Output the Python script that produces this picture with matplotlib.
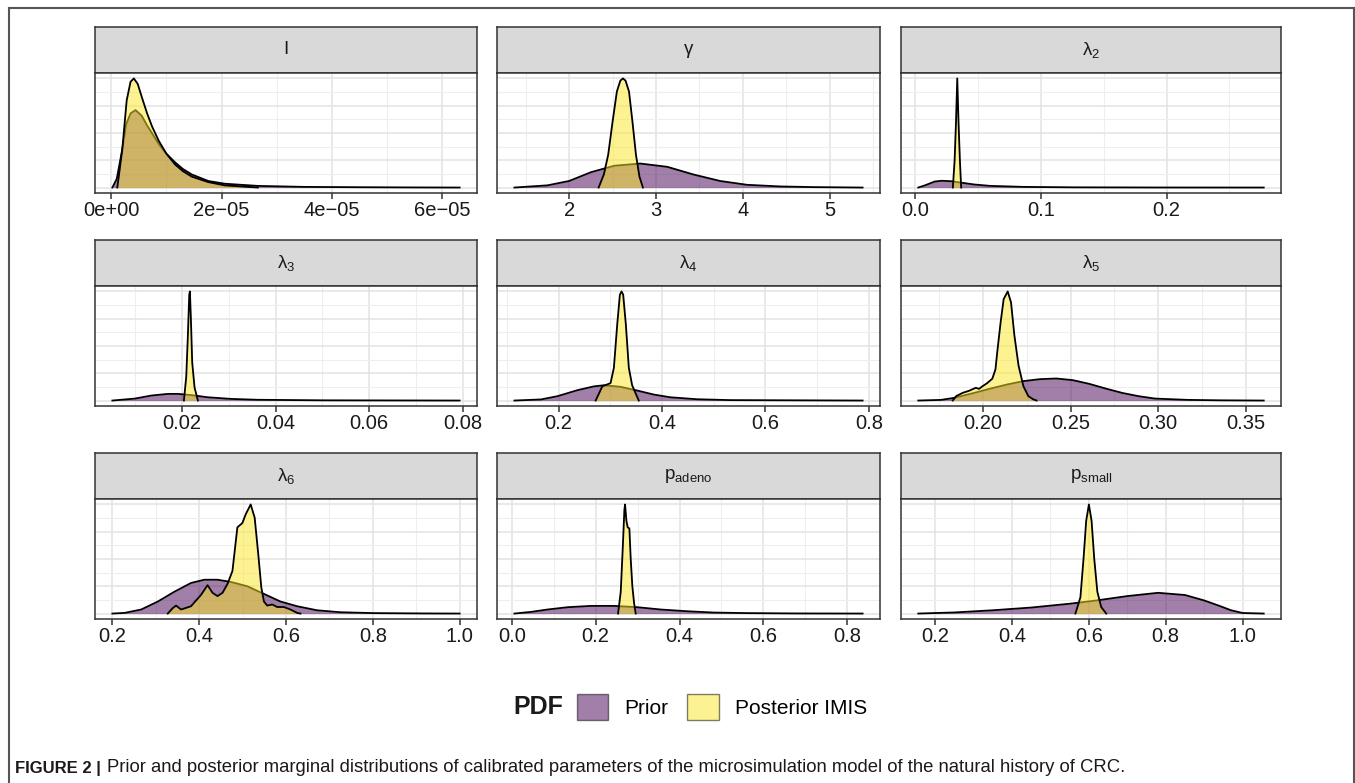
import numpy as np
import matplotlib
matplotlib.use('Agg')
import matplotlib.pyplot as plt
from matplotlib.patches import Patch
from matplotlib.lines import Line2D

plt.rcParams['font.family'] = ['Liberation Sans', 'DejaVu Sans']
plt.rcParams['mathtext.default'] = 'regular'

# ---------------- data (heights relative to posterior peak) -------------
panel_titles = [r'I', r'γ', r'$\mathregular{λ_2}$',
                r'$\mathregular{λ_3}$', r'$\mathregular{λ_4}$', r'$\mathregular{λ_5}$',
                r'$\mathregular{λ_6}$', r'$\mathregular{p_{adeno}}$', r'$\mathregular{p_{small}}$']
series_names = ['Prior', 'Posterior IMIS']

# I  (values in units of 1e-5)
I_scale = 1e-5
I_prior_x = [0.02, 0.1, 0.2, 0.27, 0.35, 0.44, 0.55, 0.65, 0.75, 0.86, 1.0, 1.16, 1.3, 1.46, 1.76, 2.06, 2.66, 3.5, 4.5, 5.5, 6.32]
I_prior_h = [0, 0.08, 0.35, 0.58, 0.68, 0.71, 0.66, 0.57, 0.49, 0.40, 0.31, 0.23, 0.17, 0.12, 0.06, 0.035, 0.015, 0.006, 0.003, 0.001, 0]
I_post_x = [0.11, 0.2, 0.28, 0.35, 0.41, 0.48, 0.56, 0.65, 0.74, 0.86, 1.0, 1.16, 1.3, 1.46, 1.76, 2.06, 2.66]
I_post_h = [0, 0.35, 0.8, 0.97, 1.0, 0.95, 0.82, 0.68, 0.56, 0.43, 0.31, 0.21, 0.15, 0.10, 0.05, 0.02, 0]

gamma_prior_x = [1.37, 1.75, 2.0, 2.25, 2.52, 2.82, 3.13, 3.43, 3.74, 4.05, 4.43, 4.81, 5.38]
gamma_prior_h = [0, 0.02, 0.06, 0.14, 0.20, 0.22, 0.19, 0.12, 0.06, 0.025, 0.01, 0.004, 0]
gamma_post_x = [2.34, 2.40, 2.45, 2.50, 2.55, 2.59, 2.62, 2.65, 2.69, 2.73, 2.77, 2.81, 2.85]
gamma_post_h = [0, 0.12, 0.3, 0.6, 0.88, 0.98, 1.0, 0.98, 0.88, 0.6, 0.3, 0.1, 0]

l2_prior_x = [0.0026, 0.0079, 0.0157, 0.021, 0.0288, 0.0367, 0.047, 0.060, 0.0865, 0.126, 0.191, 0.2773]
l2_prior_h = [0, 0.02, 0.055, 0.062, 0.058, 0.045, 0.028, 0.015, 0.006, 0.002, 0.0005, 0]
l2_post_x = [0.0301, 0.0315, 0.0326, 0.0336, 0.0346, 0.0357, 0.0367]
l2_post_h = [0, 0.25, 0.6, 1.0, 0.6, 0.25, 0]

l3_prior_x = [0.00514, 0.00995, 0.01349, 0.01703, 0.01915, 0.02198, 0.02552, 0.03047, 0.03613, 0.05028, 0.0793]
l3_prior_h = [0, 0.018, 0.046, 0.061, 0.061, 0.05, 0.03, 0.015, 0.007, 0.002, 0]
l3_post_x = [0.02042, 0.02092, 0.02127, 0.02156, 0.0217, 0.02191, 0.02219, 0.02269, 0.0234]
l3_post_h = [0, 0.22, 0.6, 0.97, 1.0, 0.75, 0.35, 0.12, 0]

l4_prior_x = [0.1147, 0.166, 0.198, 0.2365, 0.2686, 0.2878, 0.3199, 0.3519, 0.384, 0.416, 0.4673, 0.5314, 0.7878]
l4_prior_h = [0, 0.01, 0.04, 0.095, 0.13, 0.14, 0.126, 0.092, 0.055, 0.03, 0.012, 0.004, 0]
l4_post_x = [0.2718, 0.2846, 0.3006, 0.307, 0.3135, 0.3186, 0.3218, 0.325, 0.3301, 0.3359, 0.3423, 0.3551]
l4_post_h = [0, 0.13, 0.16, 0.3, 0.7, 0.97, 1.0, 0.97, 0.7, 0.3, 0.14, 0]

l5_prior_x = [0.163, 0.1761, 0.1836, 0.1949, 0.2043, 0.2137, 0.2231, 0.2325, 0.2419, 0.2513, 0.2607, 0.2701, 0.2795, 0.2889, 0.2983, 0.3171, 0.3359, 0.3604]
l5_prior_h = [0, 0.006, 0.025, 0.07, 0.11, 0.147, 0.178, 0.196, 0.202, 0.187, 0.153, 0.11, 0.07, 0.04, 0.018, 0.006, 0.002, 0]
l5_post_x = [0.1827, 0.1846, 0.1883, 0.1921, 0.1959, 0.1977, 0.1996, 0.2024, 0.2053, 0.2071, 0.2081, 0.21, 0.2118, 0.2141, 0.216, 0.2179, 0.2203, 0.2231, 0.2259, 0.2288, 0.2306]
l5_post_h = [0, 0.04, 0.07, 0.09, 0.117, 0.107, 0.13, 0.16, 0.2, 0.285, 0.44, 0.71, 0.93, 1.0, 0.9, 0.6, 0.32, 0.13, 0.04, 0.01, 0]

l6_prior_x = [0.2, 0.2283, 0.2665, 0.3047, 0.3429, 0.3811, 0.4117, 0.4422, 0.4728, 0.511, 0.5492, 0.5874, 0.6256, 0.6714, 0.7249, 0.8013, 0.9159, 1.0]
l6_prior_h = [0, 0.006, 0.037, 0.11, 0.2, 0.28, 0.31, 0.31, 0.29, 0.25, 0.18, 0.11, 0.067, 0.03, 0.012, 0.004, 0.001, 0]
l6_post_x = [0.3276, 0.3391, 0.3467, 0.3582, 0.3811, 0.404, 0.4193, 0.4307, 0.4422, 0.4537, 0.4651, 0.4766, 0.488, 0.4995, 0.5072, 0.5186, 0.5278, 0.5362, 0.5431, 0.5492, 0.5568, 0.5683, 0.5797, 0.595, 0.6103, 0.6256, 0.6332]
l6_post_h = [0, 0.05, 0.073, 0.037, 0.067, 0.17, 0.26, 0.19, 0.16, 0.19, 0.27, 0.39, 0.79, 0.83, 0.91, 1.0, 0.88, 0.54, 0.24, 0.11, 0.073, 0.083, 0.06, 0.06, 0.037, 0.006, 0]

pad_prior_x = [0.0063, 0.0459, 0.0855, 0.1331, 0.1885, 0.244, 0.2994, 0.3549, 0.4182, 0.4816, 0.5608, 0.6796, 0.8364]
pad_prior_h = [0, 0.015, 0.037, 0.058, 0.07, 0.07, 0.058, 0.037, 0.021, 0.009, 0.004, 0.001, 0]
pad_post_x = [0.2535, 0.2598, 0.2646, 0.2685, 0.2701, 0.2733, 0.2764, 0.2804, 0.2836, 0.2875, 0.2915, 0.2954]
pad_post_h = [0, 0.2, 0.6, 0.95, 1.0, 0.85, 0.79, 0.78, 0.5, 0.25, 0.1, 0]

psm_prior_x = [0.156, 0.25, 0.35, 0.45, 0.55, 0.62, 0.70, 0.78, 0.85, 0.90, 0.94, 0.97, 1.0, 1.055]
psm_prior_h = [0, 0.01, 0.03, 0.055, 0.09, 0.12, 0.16, 0.19, 0.17, 0.12, 0.07, 0.03, 0.005, 0]
psm_post_x = [0.565, 0.578, 0.586, 0.593, 0.600, 0.607, 0.614, 0.622, 0.632, 0.645]
psm_post_h = [0, 0.15, 0.5, 0.85, 1.0, 0.85, 0.5, 0.2, 0.06, 0]

# tick positions and labels for each panel
I_ticks = [0, 2e-5, 4e-5, 6e-5]
I_ticklabels = ['0e+00', '2e\u221205', '4e\u221205', '6e\u221205']
gamma_ticks = [2, 3, 4, 5]
gamma_ticklabels = ['2', '3', '4', '5']
l2_ticks = [0.0, 0.1, 0.2]
l2_ticklabels = ['0.0', '0.1', '0.2']
l3_ticks = [0.02, 0.04, 0.06, 0.08]
l3_ticklabels = ['0.02', '0.04', '0.06', '0.08']
l4_ticks = [0.2, 0.4, 0.6, 0.8]
l4_ticklabels = ['0.2', '0.4', '0.6', '0.8']
l5_ticks = [0.20, 0.25, 0.30, 0.35]
l5_ticklabels = ['0.20', '0.25', '0.30', '0.35']
l6_ticks = [0.2, 0.4, 0.6, 0.8, 1.0]
l6_ticklabels = ['0.2', '0.4', '0.6', '0.8', '1.0']
pad_ticks = [0.0, 0.2, 0.4, 0.6, 0.8]
pad_ticklabels = ['0.0', '0.2', '0.4', '0.6', '0.8']
psm_ticks = [0.2, 0.4, 0.6, 0.8, 1.0]
psm_ticklabels = ['0.2', '0.4', '0.6', '0.8', '1.0']

caption_bold = 'FIGURE 2 |'
caption_text = ('Prior and posterior marginal distributions of calibrated parameters of the '
                'microsimulation model of the natural history of CRC.')

# ---------------- assemble ----------------
panels = [
    (np.array(I_prior_x) * I_scale, I_prior_h, np.array(I_post_x) * I_scale, I_post_h, I_ticks, I_ticklabels),
    (gamma_prior_x, gamma_prior_h, gamma_post_x, gamma_post_h, gamma_ticks, gamma_ticklabels),
    (l2_prior_x, l2_prior_h, l2_post_x, l2_post_h, l2_ticks, l2_ticklabels),
    (l3_prior_x, l3_prior_h, l3_post_x, l3_post_h, l3_ticks, l3_ticklabels),
    (l4_prior_x, l4_prior_h, l4_post_x, l4_post_h, l4_ticks, l4_ticklabels),
    (l5_prior_x, l5_prior_h, l5_post_x, l5_post_h, l5_ticks, l5_ticklabels),
    (l6_prior_x, l6_prior_h, l6_post_x, l6_post_h, l6_ticks, l6_ticklabels),
    (pad_prior_x, pad_prior_h, pad_post_x, pad_post_h, pad_ticks, pad_ticklabels),
    (psm_prior_x, psm_prior_h, psm_post_x, psm_post_h, psm_ticks, psm_ticklabels),
]

W, H = 1355, 783
fig = plt.figure(figsize=(W / 100, H / 100), dpi=100)
fig.patch.set_facecolor('white')


def rect(x0, y0, w, h):
    return [x0 / W, 1 - (y0 + h) / H, w / W, h / H]


col_left = [95, 497, 901]
col_width = [382, 383, 380]
row_top = [27, 240, 453]
strip_h = 46
panel_h = 120

prior_color = '#440154'
post_color = '#FDE725'
edge = '#333333'

for i, (px, ph, qx, qh, ticks, tlabels) in enumerate(panels):
    r, c = divmod(i, 3)
    x0, w = col_left[c], col_width[c]
    y0 = row_top[r]
    # strip
    sax = fig.add_axes(rect(x0, y0, w, strip_h))
    sax.set_facecolor('#d9d9d9')
    sax.set_xticks([]); sax.set_yticks([])
    for s in sax.spines.values():
        s.set_color(edge); s.set_linewidth(1.1)
    sax.text(0.5, 0.5, panel_titles[i], ha='center', va='center', fontsize=13.5,
             color='#1a1a1a', transform=sax.transAxes)
    # panel
    ax = fig.add_axes(rect(x0, y0 + strip_h, w, panel_h))
    ax.fill_between(px, ph, 0, color=prior_color, alpha=0.5, lw=0, zorder=2)
    ax.plot(px, ph, color='black', lw=1.3, zorder=3)
    ax.fill_between(qx, qh, 0, color=post_color, alpha=0.5, lw=0, zorder=4)
    ax.plot(qx, qh, color='black', lw=1.3, zorder=5)
    ax.margins(x=0.05, y=0.05)
    xmin, xmax = ax.get_xlim()
    step = ticks[1] - ticks[0]
    minors = [t + step / 2 for t in [ticks[0] - step] + list(ticks)]
    minors = [m for m in minors if xmin < m < xmax]
    ax.set_xticks(ticks)
    ax.set_xticklabels(tlabels)
    ax.set_xticks(minors, minor=True)
    ax.set_yticks([0, 0.25, 0.5, 0.75, 1.0])
    ax.set_yticks([0.125, 0.375, 0.625, 0.875], minor=True)
    ax.grid(which='major', color='#e3e3e3', lw=1.1)
    ax.grid(which='minor', color='#eeeeee', lw=0.8)
    ax.set_axisbelow(True)
    ax.tick_params(axis='y', which='both', left=False, labelleft=False)
    ax.tick_params(axis='x', which='major', length=4, width=1.1, color=edge,
                   labelsize=14.5, labelcolor='#1a1a1a', pad=2)
    ax.tick_params(axis='x', which='minor', length=0)
    for s in ax.spines.values():
        s.set_color(edge); s.set_linewidth(1.1)

# legend
handles = [Patch(facecolor=prior_color, alpha=0.5, edgecolor='black', lw=1.0, label=series_names[0]),
           Patch(facecolor=post_color, alpha=0.5, edgecolor='black', lw=1.0, label=series_names[1])]
leg = fig.legend(handles=handles, loc='center', bbox_to_anchor=(722 / W, 1 - 707 / H),
                 ncol=2, frameon=False, fontsize=15, handlelength=1.5, handleheight=1.5,
                 handletextpad=0.8, columnspacing=0.9, borderpad=0)
for h in leg.legend_handles:
    h.set_edgecolor('black')
fig.text(513 / W, 1 - 707 / H, 'PDF', fontsize=18, fontweight='bold', ha='left', va='center',
         color='#1a1a1a')

# caption
renderer = fig.canvas.get_renderer()
capb = fig.text(15 / W, 1 - 768 / H, caption_bold, fontsize=12, fontweight='bold', ha='left',
                va='center', color='#1a1a1a')
bb = capb.get_window_extent(renderer)
x_reg = bb.x1 + 6
cap = fig.text(x_reg / W, 1 - 768 / H, caption_text, fontsize=12.5, ha='left', va='center',
               color='#1a1a1a')
wpx = cap.get_window_extent(renderer).width
cap.set_fontsize(12.5 * (1132 - x_reg) / wpx)

# frame around figure
fig.add_artist(Line2D([9 / W, 9 / W], [0, 1 - 8 / H], color='#555555', lw=1.5))
fig.add_artist(Line2D([9 / W, 1354 / W], [1 - 8 / H, 1 - 8 / H], color='#555555', lw=1.5))
fig.add_artist(Line2D([1354 / W, 1354 / W], [0, 1 - 8 / H], color='#555555', lw=1.5))

fig.savefig('out.png', dpi=100, facecolor='white')
